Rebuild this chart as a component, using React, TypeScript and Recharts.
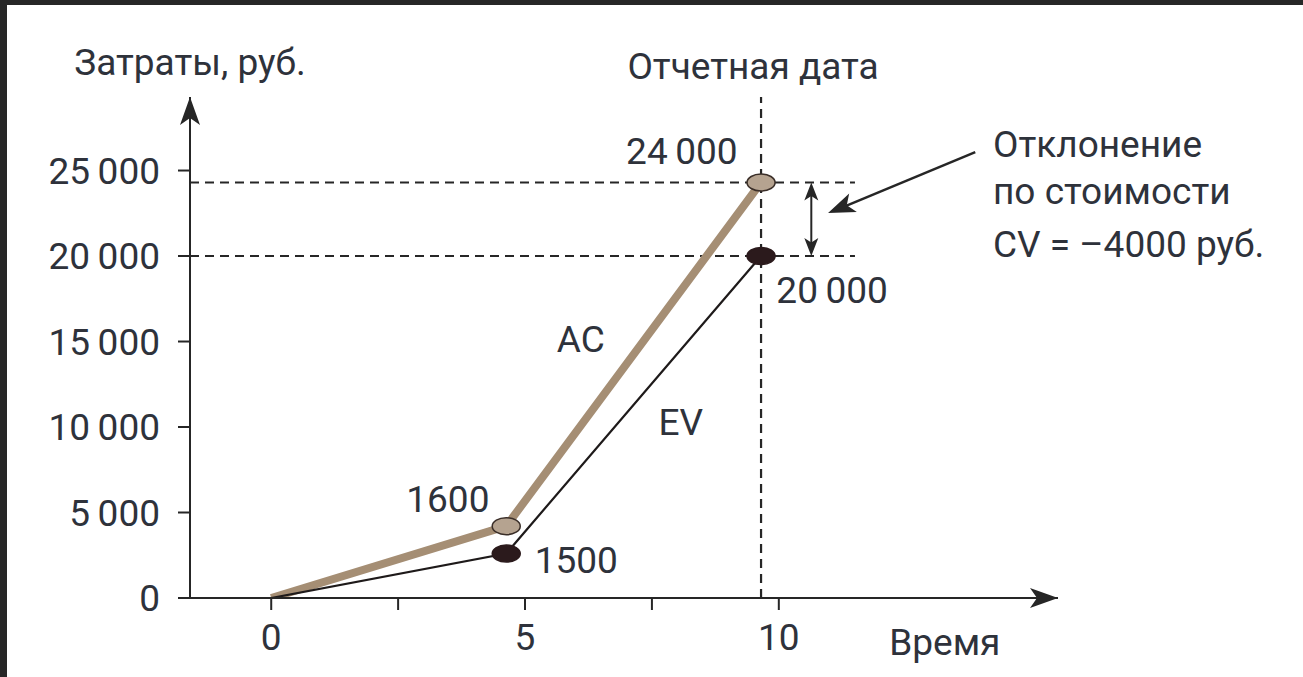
import {
  LineChart,
  Line,
  XAxis,
  YAxis,
  ReferenceLine,
  ReferenceDot,
} from "recharts";

// values
const acData = [
  { x: 0, y: 0 },
  { x: 4.63, y: 4200 },
  { x: 9.65, y: 24300 },
];
const evData = [
  { x: 0, y: 0 },
  { x: 4.63, y: 2600 },
  { x: 9.65, y: 20000 },
];
const xTicks = [0, 2.5, 5, 7.5, 10];
const yTicks = [0, 5000, 10000, 15000, 20000, 25000];
const reportDate = 9.65;
const acValue = 24300;
const evValue = 20000;

const TEXT = "#2e323b";
const AXIS = "#262626";
const FONT = 37;

// text placed in chart coordinates
const notes = [
  { x: -1.6, y: 31300, text: "Затраты, руб.", anchor: "middle" },
  { x: 13.27, y: -2600, text: "Время", anchor: "middle" },
  { x: 8.09, y: 26100, text: "24\u2009000", anchor: "middle" },
  { x: 11.05, y: 18000, text: "20\u2009000", anchor: "middle" },
  { x: 3.48, y: 5750, text: "1600", anchor: "middle" },
  { x: 6.01, y: 2200, text: "1500", anchor: "middle" },
  { x: 6.1, y: 15100, text: "AC", anchor: "middle" },
  { x: 8.07, y: 10250, text: "EV", anchor: "middle" },
  { x: 14.22, y: 26500, text: "Отклонение", anchor: "start" },
  { x: 14.22, y: 23750, text: "по стоимости", anchor: "start" },
  { x: 14.22, y: 20650, text: "CV = \u20134000 руб.", anchor: "start" },
];

const fmtY = (v: number) =>
  v === 0 ? "0" : `${Math.floor(v / 1000)}\u2009${String(v % 1000).padStart(3, "0")}`;
const fmtX = (v: number) => (Number.isInteger(v) ? String(v) : "");

const arrowHead = (angle: number, len: number, half: number, fill = AXIS) =>
  (p: any) => (
    <path
      d={`M0,0 L${-len},${-half} L${-len * 0.75},0 L${-len},${half} Z`}
      fill={fill}
      transform={`translate(${p.cx},${p.cy}) rotate(${angle})`}
    />
  );

const noteShape = (text: string, anchor: string) => (p: any) => (
  <text
    x={p.cx}
    y={p.cy}
    textAnchor={anchor as any}
    dominantBaseline="central"
    fill={TEXT}
    fontSize={FONT}
  >
    {text}
  </text>
);

const ellipseDot = (fill: string, stroke: string) => (p: any) => {
  if (p.index === 0) return <g key={p.key} />;
  return (
    <ellipse
      key={p.key}
      cx={p.cx}
      cy={p.cy}
      rx={14}
      ry={8.5}
      fill={fill}
      stroke={stroke}
      strokeWidth={1.5}
    />
  );
};

const dashed = { stroke: AXIS, strokeWidth: 2.2, strokeDasharray: "9 6" };

export default function App() {
  return (
    <div
      style={{
        position: "fixed",
        top: 0,
        left: 0,
        width: 1303,
        height: 677,
        background: "#fff",
        fontFamily: "Roboto, sans-serif",
      }}
    >
      <div style={{ position: "absolute", top: 0, left: 0, width: 1303, height: 5, background: "#272727" }} />
      <div style={{ position: "absolute", top: 0, left: 0, width: 7, height: 677, background: "#272727" }} />
      <LineChart
        width={1303}
        height={677}
        margin={{ top: 97, right: 245, bottom: 19, left: 110 }}
      >
        <XAxis
          type="number"
          dataKey="x"
          domain={[-1.6, 15.5]}
          ticks={xTicks}
          tickFormatter={fmtX}
          tickSize={12}
          tickMargin={14}
          height={60}
          stroke={AXIS}
          strokeWidth={2}
          tick={{ fill: TEXT, fontSize: FONT }}
          allowDataOverflow
        />
        <YAxis
          type="number"
          dataKey="y"
          domain={[0, 29300]}
          ticks={yTicks}
          tickFormatter={fmtY}
          tickSize={12}
          tickMargin={18}
          width={80}
          stroke={AXIS}
          strokeWidth={2}
          tick={{ fill: TEXT, fontSize: FONT }}
          allowDataOverflow
        />
        <ReferenceLine
          x={reportDate}
          {...dashed}
          label={{ value: "Отчетная дата", position: "top", offset: 18, fill: TEXT, fontSize: FONT, dx: -8 }}
        />
        <ReferenceLine segment={[{ x: -1.6, y: acValue }, { x: 11.5, y: acValue }]} {...dashed} />
        <ReferenceLine segment={[{ x: -1.6, y: evValue }, { x: 11.5, y: evValue }]} {...dashed} />
        {/* CV double arrow */}
        <ReferenceLine
          segment={[{ x: 10.64, y: acValue - 400 }, { x: 10.64, y: evValue + 400 }]}
          stroke={AXIS}
          strokeWidth={2}
        />
        <ReferenceDot x={10.64} y={acValue} shape={arrowHead(-90, 18, 7)} ifOverflow="visible" />
        <ReferenceDot x={10.64} y={evValue} shape={arrowHead(90, 18, 7)} ifOverflow="visible" />
        {/* pointer from the note */}
        <ReferenceLine
          segment={[{ x: 13.87, y: 26080 }, { x: 11.3, y: 22900 }]}
          stroke={AXIS}
          strokeWidth={2.5}
        />
        <ReferenceDot x={10.97} y={22515} shape={arrowHead(157.5, 27, 10)} ifOverflow="visible" />
        {/* axis arrows */}
        <ReferenceDot x={-1.6} y={29300} shape={arrowHead(-90, 28, 10)} ifOverflow="visible" />
        <ReferenceDot x={15.5} y={0} shape={arrowHead(0, 28, 10)} ifOverflow="visible" />

        <Line
          data={acData}
          dataKey="y"
          stroke="#a58e74"
          strokeWidth={8}
          strokeLinejoin="round"
          dot={ellipseDot("#b5a390", "#3a2e28")}
          activeDot={false}
          isAnimationActive={false}
        />
        <Line
          data={evData}
          dataKey="y"
          stroke="#1e1a1a"
          strokeWidth={2.2}
          dot={ellipseDot("#2b1a1c", "#2b1a1c")}
          activeDot={false}
          isAnimationActive={false}
        />
        {notes.map((n) => (
          <ReferenceDot
            key={n.text}
            x={n.x}
            y={n.y}
            shape={noteShape(n.text, n.anchor)}
            ifOverflow="visible"
          />
        ))}
      </LineChart>
    </div>
  );
}
